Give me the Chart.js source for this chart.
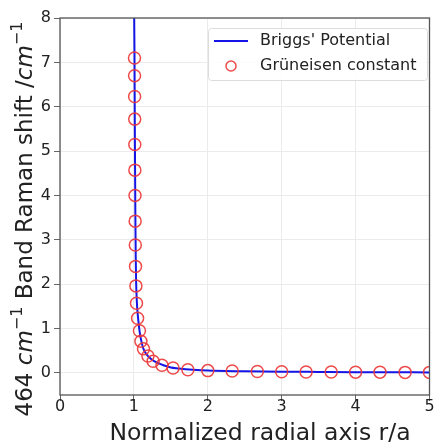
<!DOCTYPE html>
<html>
<head>
<meta charset="utf-8">
<script src="https://cdn.jsdelivr.net/npm/chart.js@4.4.0/dist/chart.umd.min.js"></script>
<style>
    html, body { margin: 0; padding: 0; background: #fff; }
    #wrap { width: 437px; height: 445px; }
</style>
</head>
<body>
<div id="wrap"><canvas id="chart" width="437" height="445"></canvas></div>
<script>
// Briggs' potential curve
const briggsX = [1.0, 1.004, 1.008, 1.012, 1.016, 1.02, 1.025, 1.03, 1.04, 1.05, 1.065, 1.08, 1.1, 1.125, 1.15, 1.2, 1.25, 1.3, 1.4, 1.5, 1.6, 1.8, 2.0, 2.5, 3.0, 3.5, 4.0, 4.5, 5.0];
const briggsY = [9.5, 8.0, 7.2, 5.7, 4.6, 3.5, 2.6, 2.05, 1.6, 1.35, 1.1, 0.9, 0.72, 0.56, 0.47, 0.36, 0.29, 0.24, 0.17, 0.12, 0.1, 0.07, 0.05, 0.035, 0.025, 0.02, 0.015, 0.012, 0.01];

// Grüneisen constant points
const gruneisenX = [1.008, 1.009, 1.010, 1.011, 1.012, 1.013, 1.015, 1.017, 1.019, 1.022, 1.027, 1.035, 1.05, 1.075, 1.095, 1.13, 1.19, 1.26, 1.38, 1.53, 1.73, 2.0, 2.33, 2.67, 3.0, 3.33, 3.67, 4.0, 4.33, 4.67, 5.0];
const gruneisenY = [7.1, 6.7, 6.23, 5.72, 5.15, 4.57, 4.0, 3.42, 2.88, 2.4, 1.96, 1.57, 1.23, 0.95, 0.71, 0.54, 0.38, 0.26, 0.17, 0.11, 0.07, 0.05, 0.04, 0.03, 0.025, 0.02, 0.02, 0.015, 0.015, 0.01, 0.01];

const xTicks = [0, 1, 2, 3, 4, 5];
const yTicks = [0, 1, 2, 3, 4, 5, 6, 7, 8];

const xTitle = 'Normalized radial axis r/a';
// y title pieces: [text, italic, superscript]
const yTitleParts = [
    ['464 ', false, false],
    ['cm', true, false],
    ['\u22121', false, true],
    [' Band Raman shift /', false, false],
    ['cm', true, false],
    ['\u22121', false, true]
];

const FONT = "'DejaVu Sans', sans-serif";
const TEXT = '#222';

const toPoints = (xs, ys) => xs.map((x, i) => ({ x: x, y: ys[i] }));

// Box round the plot area, like matplotlib spines
const framePlugin = {
    id: 'frame',
    afterDatasetsDraw(chart) {
        const { ctx, chartArea: a } = chart;
        ctx.save();
        ctx.strokeStyle = '#555';
        ctx.lineWidth = 1.3;
        ctx.strokeRect(a.left, a.top, a.right - a.left, a.bottom - a.top);
        ctx.restore();
    }
};

// Axis titles, with italic units and superscripts on the y title
const titlesPlugin = {
    id: 'titles',
    afterDraw(chart) {
        const ctx = chart.ctx;
        ctx.save();
        ctx.fillStyle = TEXT;
        ctx.textBaseline = 'alphabetic';

        ctx.font = '23.5px ' + FONT;
        ctx.textAlign = 'center';
        ctx.fillText(xTitle, 260, 440);

        const fontFor = p => (p[1] ? 'italic ' : '') + (p[2] ? '16px ' : '23px ') + FONT;
        let total = 0;
        yTitleParts.forEach(p => { ctx.font = fontFor(p); total += ctx.measureText(p[0]).width; });
        ctx.translate(32, 219);
        ctx.rotate(-Math.PI / 2);
        ctx.textAlign = 'left';
        let x = -total / 2;
        yTitleParts.forEach(p => {
            ctx.font = fontFor(p);
            ctx.fillText(p[0], x, p[2] ? -10 : 0);
            x += ctx.measureText(p[0]).width;
        });
        ctx.restore();
    }
};

// Legend drawn inside the plot, top right
const innerLegend = {
    id: 'innerLegend',
    afterDraw(chart) {
        const ctx = chart.ctx;
        const x = 208, y = 28, w = 219, h = 52;
        ctx.save();
        ctx.fillStyle = 'rgba(255,255,255,0.85)';
        ctx.strokeStyle = '#dcdcdc';
        ctx.lineWidth = 1;
        ctx.beginPath();
        ctx.roundRect(x + 0.5, y + 0.5, w, h, 3);
        ctx.fill();
        ctx.stroke();

        const ds = chart.data.datasets;
        ctx.strokeStyle = ds[0].borderColor;
        ctx.lineWidth = 2;
        ctx.beginPath();
        ctx.moveTo(214, 41);
        ctx.lineTo(248, 41);
        ctx.stroke();

        ctx.strokeStyle = ds[1].borderColor;
        ctx.lineWidth = 1.5;
        ctx.beginPath();
        ctx.arc(231, 66, 5, 0, Math.PI * 2);
        ctx.stroke();

        ctx.fillStyle = TEXT;
        ctx.font = '16px ' + FONT;
        ctx.textBaseline = 'middle';
        ctx.fillText(ds[0].label, 260, 41);
        ctx.fillText(ds[1].label, 260, 66);
        ctx.restore();
    }
};

new Chart(document.getElementById('chart'), {
    type: 'scatter',
    data: {
        datasets: [{
            label: "Briggs' Potential",
            data: toPoints(briggsX, briggsY),
            showLine: true,
            borderColor: '#1414e6',
            borderWidth: 2,
            pointRadius: 0,
            cubicInterpolationMode: 'monotone',
            clip: 0,
            order: 1
        }, {
            label: 'Grüneisen constant',
            data: toPoints(gruneisenX, gruneisenY),
            showLine: false,
            borderColor: 'rgba(235, 55, 55, 0.9)',
            backgroundColor: 'rgba(0,0,0,0)',
            borderWidth: 1.5,
            pointRadius: 6,
            clip: 0,
            order: 0
        }]
    },
    options: {
        responsive: false,
        animation: false,
        layout: { padding: { top: 18, right: 4, left: 0, bottom: 0 } },
        plugins: {
            legend: { display: false },
            tooltip: { enabled: false }
        },
        scales: {
            x: {
                type: 'linear',
                min: 0,
                max: 5,
                afterBuildTicks: scale => { scale.ticks = xTicks.map(v => ({ value: v })); },
                afterFit: scale => { scale.height = 50; },
                grid: { color: '#ebebeb', tickColor: '#666', tickLength: 6 },
                border: { display: false },
                ticks: { color: TEXT, font: { family: FONT, size: 16 }, padding: -4, maxRotation: 0 },
                title: { display: false }
            },
            y: {
                type: 'linear',
                min: -0.5,
                max: 8,
                afterBuildTicks: scale => { scale.ticks = yTicks.map(v => ({ value: v })); },
                afterFit: scale => { scale.width = 60; },
                grid: { color: '#ebebeb', tickColor: '#666', tickLength: 6 },
                border: { display: false },
                ticks: { color: TEXT, font: { family: FONT, size: 16 }, padding: 3 },
                title: { display: false }
            }
        }
    },
    plugins: [framePlugin, titlesPlugin, innerLegend]
});
</script>
</body>
</html>
